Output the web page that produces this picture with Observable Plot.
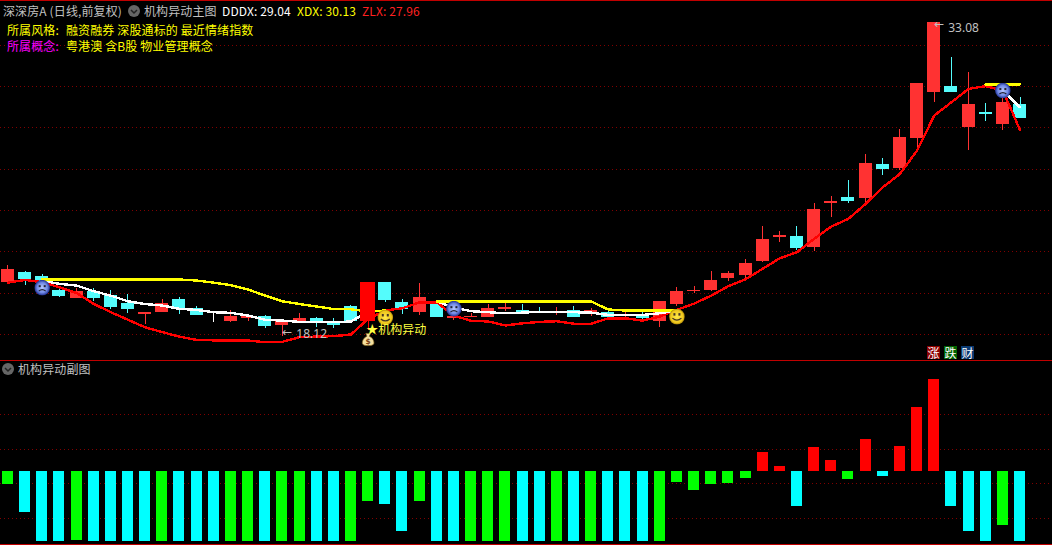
<!DOCTYPE html>
<html lang="zh">
<head>
<meta charset="utf-8">
<script src="https://cdn.jsdelivr.net/npm/d3@7"></script>
<script src="https://cdn.jsdelivr.net/npm/@observablehq/plot@0.6"></script>
<style>
html,body{margin:0;padding:0;background:#000;width:1052px;height:545px;overflow:hidden}
#stage{position:relative;width:1052px;height:545px;background:#000;font-family:"Noto Sans CJK SC","Noto Sans",sans-serif;font-size:12px}
#stage svg{display:block}
.t{position:absolute;white-space:nowrap;line-height:14px;height:14px;letter-spacing:.12px}
.tag{position:absolute;width:13px;height:13px;top:346px;color:#fff;font-size:12px;line-height:13px;text-align:center}
.icon{position:absolute;width:12px;height:12px}
</style>
</head>
<body>
<div id="stage"></div>
<script>
// Daily candles, index 0..59
const opens  = [20.74,21.17,20.98,20.31,19.98,20.26,20.03,19.69,19.21,19.31,19.84,19.45,18.88,18.84,19.02,19.03,18.69,18.88,18.98,18.79,19.55,18.84,20.69,19.74,19.31,19.69,19.02,19.06,19.07,19.41,19.36,19.26,19.22,19.36,19.22,19.22,19.11,19.03,18.88,19.69,20.30,20.36,20.93,21.03,21.74,22.84,22.88,22.41,24.46,24.70,24.74,26.31,26.17,27.60,29.79,30.03,28.08,28.75,28.27,29.17];
const closes = [21.27,20.84,20.79,20.07,20.26,19.98,19.55,19.41,19.22,19.69,19.50,19.17,18.88,19.03,19.03,18.60,18.84,18.98,18.79,18.65,18.84,20.69,19.88,19.41,19.98,19.07,19.03,19.07,19.45,19.50,19.26,19.22,19.31,19.07,19.36,19.07,19.12,19.02,19.79,20.26,20.31,20.79,21.12,21.60,22.74,22.93,22.36,24.17,24.55,24.60,26.36,26.08,27.60,30.13,33.08,29.79,29.13,28.74,29.27,28.55];
const highs  = [21.50,21.22,21.08,20.45,20.41,20.41,20.31,20.12,19.22,19.88,19.98,19.55,19.22,19.36,19.03,19.12,18.88,19.22,19.03,18.98,19.60,20.69,20.69,19.88,20.65,19.69,19.12,19.22,19.65,19.74,19.65,19.50,19.50,19.55,19.45,19.41,19.26,19.31,19.79,20.45,20.50,21.22,21.22,21.79,23.36,23.12,23.36,24.46,24.79,25.55,26.79,26.60,27.98,30.17,33.08,31.41,30.70,29.22,29.70,29.51];
const lows   = [20.65,20.55,20.07,19.98,19.93,19.79,19.41,19.22,18.69,19.26,19.17,19.12,18.79,18.79,18.84,18.50,18.12,18.74,18.55,18.50,18.79,18.41,19.74,19.17,19.12,19.07,18.88,19.03,19.03,19.31,19.22,19.22,19.12,19.07,19.07,19.03,19.03,18.93,18.55,19.55,20.17,20.26,20.74,20.88,21.65,22.60,22.22,22.17,23.79,24.46,24.46,25.79,26.03,27.08,29.27,29.79,26.98,28.36,27.93,28.55];
const limitUpDays = [21];

// Indicator lines of the main pane (null = not drawn on that day)
const xdxLine = [null,null,20.84,20.84,20.84,20.84,20.84,20.84,20.84,20.84,20.84,20.79,20.69,20.57,20.36,20.07,19.80,19.67,19.55,19.43,19.42,19.31,19.36,null,null,19.79,19.79,19.79,19.79,19.79,19.79,19.79,19.79,19.79,19.79,19.41,19.36,19.36,19.36,19.36,null,null,null,null,null,null,null,null,null,null,null,null,null,null,null,null,null,30.13,30.13,30.13];
const dddxLine = [null,null,20.79,20.63,20.55,20.28,20.07,19.80,19.67,19.60,19.44,19.39,19.28,19.25,19.12,18.92,18.88,18.82,18.82,18.80,18.84,19.31,null,null,null,19.79,19.50,19.33,19.28,19.23,19.26,19.30,19.28,19.28,19.26,19.15,19.15,19.15,19.23,19.36,null,null,null,null,null,null,null,null,null,null,null,null,null,null,null,null,null,null,29.84,29.04];
const zlxLine = [20.69,20.82,20.71,20.47,20.20,19.68,19.28,18.92,18.56,18.33,18.12,17.96,17.94,17.94,17.93,17.85,17.87,18.09,18.12,18.14,18.22,18.96,19.36,19.47,19.75,19.75,19.12,18.87,18.84,18.65,18.75,18.82,18.85,18.73,18.73,18.99,18.99,18.88,19.07,19.39,19.69,20.07,20.52,20.85,21.35,21.85,22.14,22.78,23.36,23.73,24.44,25.23,25.87,26.98,28.65,29.28,29.92,30.05,29.84,27.96];

// Sub-pane histogram
const subValues = [-18.6,-58.6,-100,-100,-98.6,-100,-100,-100,-100,-100,-100,-100,-100,-100,-100,-100,-100,-100,-100,-100,-100,-43,-47,-85.7,-43,-100,-100,-100,-100,-100,-100,-100,-100,-100,-100,-100,-100,-100,-100,-15.7,-27,-18.6,-17,-10,27,7,-50,34.4,15.8,-11.4,46,-7,36,91.7,130.5,-50,-85.7,-100,-77,-100];
const subKinds  = "gccc"+"gcccc"+"gccc"+"ggc"+"ggcc"+"gg"+"cc"+"g"+"cc"+"ggg"+"c"+"cgcgccc"+"g"+"ggggg"+"rr"+"c"+"rr"+"g"+"r"+"c"+"rrr"+"cc"+"c"+"g"+"c";

const mainGrid = [32.00,30.03,28.06,26.09,24.12,22.15,20.18,18.21];
const subGrid  = [81,31.7,-17.5,-66.8];
const subBorders = [157.4,-103.7];

const priceArrows = [{i:16,p:18.31},{i:54,p:32.98}];
const priceLabels = [{i:16,p:18.24,text:"18.12"},{i:54,p:32.79,text:"33.08"}];
const signalNotes = [{i:21,p:18.41,text:"★机构异动"}];
const sadDays   = [{i:2,p:20.45},{i:26,p:19.45},{i:58,p:29.84}];
const smileDays = [{i:22,p:19.03},{i:39,p:19.07}];
const bagDays   = [{i:21,p:17.98}];

const RED="#ff3232", CYAN="#54fcfc", GRID="#800000", LINE="#c00000";
const svgUri = s => "data:image/svg+xml;charset=utf-8," + encodeURIComponent(s);
const sadSrc = svgUri(`<svg xmlns="http://www.w3.org/2000/svg" viewBox="0 0 16 16"><defs><radialGradient id="g"><stop offset="0" stop-color="#b8c8ff"/><stop offset=".65" stop-color="#6f88e4"/><stop offset="1" stop-color="#1e2e90"/></radialGradient></defs><circle cx="8" cy="8" r="7.8" fill="url(#g)"/><rect x="4.5" y="5.5" width="2" height="2" fill="#223"/><rect x="9.5" y="5.5" width="2" height="2" fill="#223"/><path d="M4.5 11.5Q8 8.5 11.5 11.5" stroke="#223" fill="none" stroke-width="1.2"/></svg>`);
const smileSrc = svgUri(`<svg xmlns="http://www.w3.org/2000/svg" viewBox="0 0 16 16"><defs><radialGradient id="g"><stop offset="0" stop-color="#ffe84a"/><stop offset=".8" stop-color="#eec61c"/><stop offset="1" stop-color="#a88408"/></radialGradient></defs><circle cx="8" cy="8" r="7.8" fill="url(#g)"/><rect x="4.5" y="4.5" width="2" height="2.5" fill="#432"/><rect x="9.5" y="4.5" width="2" height="2.5" fill="#432"/><path d="M3.5 9.5Q8 13.5 12.5 9.5" stroke="#432" fill="none" stroke-width="1.2"/></svg>`);
const bagSrc = svgUri(`<svg xmlns="http://www.w3.org/2000/svg" viewBox="0 0 16 16"><path d="M5.5 1.5h5l-1.3 3c3.5 1.500 5 4.500 5 7 0 2-1.500 3-6.200 3s-6.200-1-6.200-3c0-2.500 1.500-5.500 5-7z" fill="#f3dfa0" stroke="#8a6a20" stroke-width=".7"/><text x="8" y="13" font-size="8" font-family="DejaVu Sans" font-weight="bold" text-anchor="middle" fill="#7a3c10">$</text></svg>`);

const days = d3.range(60);
const candles = days.map(i => ({i, open:opens[i], close:closes[i], high:highs[i], low:lows[i],
  color: closes[i]>opens[i] ? RED : closes[i]<opens[i] ? CYAN : "#ffffff"}));
const limitUp = candles.filter(d => limitUpDays.includes(d.i));
const subColor = {g:"#00ff00", c:"#00ffff", r:"#ff0000"};
const subBars = days.map(i => ({i, v:subValues[i], color:subColor[subKinds[i]]}));
const crisp = {shapeRendering:"crispEdges"};
const xScale = {type:"linear", domain:[0,59], range:[7.4,1019.5], axis:null};
const segs = a => { // split a series into its drawn runs
  const out=[]; let run=0; days.forEach(i=>{ if(a[i]!=null){ if(i===0||a[i-1]==null) run++; out.push({i,v:a[i],run}); } }); return out; };
const lineMark = (a,c) => Plot.line(segs(a), {x:"i", y:"v", z:"run", stroke:c, strokeWidth:2.4, ...crisp});

const mainPlot = Plot.plot({
  width:1052, height:360, margin:0,
  style:{background:"#000"},
  x:xScale,
  y:{domain:[16.98,34.13], range:[360,0], axis:null},
  color:{type:"identity"},
  marks:[
    Plot.ruleY(mainGrid, {stroke:GRID, strokeWidth:1, strokeDasharray:"1,3", ...crisp}),
    Plot.ruleX(candles, {x:"i", y1:"low", y2:"high", stroke:"color", strokeWidth:1, ...crisp}),
    Plot.rect(candles, {x1:d=>d.i-0.35, x2:d=>d.i+0.35, y1:"open", y2:"close", fill:"color", stroke:"color", strokeWidth:1, ...crisp}),
    lineMark(zlxLine, "#ff0000"),
    lineMark(dddxLine, "#ffffff"),
    lineMark(xdxLine, "#ffff00"),
    Plot.ruleX(limitUp, {x:"i", y1:"low", y2:"high", stroke:"#ff0000", strokeWidth:1, ...crisp}),
    Plot.rect(limitUp, {x1:d=>d.i-0.44, x2:d=>d.i+0.44, y1:"open", y2:"close", fill:"#ff0000", ...crisp}),
    Plot.image(sadDays, {x:"i", y:"p", src:()=>sadSrc, width:16, height:16}),
    Plot.image(smileDays, {x:"i", y:"p", src:()=>smileSrc, width:16, height:16}),
    Plot.image(bagDays, {x:"i", y:"p", src:()=>bagSrc, width:15, height:16}),
    Plot.text(priceArrows, {x:"i", y:"p", text:()=>"←", textAnchor:"start", fill:"#c0c0c0", fontSize:12, fontFamily:"DejaVu Sans"}),
    Plot.text(priceLabels, {x:"i", y:"p", text:"text", textAnchor:"start", dx:14, fill:"#c0c0c0", fontSize:12, fontFamily:"Noto Sans"}),
    Plot.text(signalNotes, {x:"i", y:"p", text:"text", textAnchor:"start", dx:-2, fill:"#ffff40", fontSize:12, fontFamily:"Noto Sans CJK SC"})
  ]
});

const subPlot = Plot.plot({
  width:1052, height:185, margin:0,
  style:{background:"#000"},
  x:xScale,
  y:{domain:[-105.4,158.1], range:[185,0], axis:null},
  color:{type:"identity"},
  marks:[
    Plot.ruleY(subGrid, {stroke:GRID, strokeWidth:1, strokeDasharray:"1,3", ...crisp}),
    Plot.rect(subBars, {x1:d=>d.i-0.32, x2:d=>d.i+0.32, y1:0, y2:"v", fill:"color", ...crisp}),
    Plot.ruleY(subBorders, {stroke:LINE, strokeWidth:1, ...crisp})
  ]
});

const stage = document.getElementById("stage");
stage.append(mainPlot, subPlot);

const addText = (left, top, text, color) => {
  const s = document.createElement("span");
  s.className = "t"; s.style.left = left+"px"; s.style.top = top+"px"; s.style.color = color; s.textContent = text;
  stage.append(s);
};
const addIcon = (left, top) => {
  const d = document.createElement("div");
  d.className = "icon"; d.style.left = left+"px"; d.style.top = top+"px";
  d.innerHTML = '<svg width="12" height="12" viewBox="0 0 12 12"><circle cx="6" cy="6" r="6" fill="#666"/><path d="M3 5l3 3 3-3" stroke="#222" stroke-width="1.5" fill="none"/></svg>';
  stage.append(d);
};
// top border of the pane
const topBorder = document.createElement("div");
topBorder.style.cssText = "position:absolute;left:0;top:0;width:1052px;height:1px;background:"+LINE;
stage.append(topBorder);

addText(3,4,"深深房A (日线,前复权)","#c0c0c0");
addIcon(128,5);
addText(144,4,"机构异动主图","#c0c0c0");
addText(222,4,"DDDX: 29.04","#ffffff");
addText(297,4,"XDX: 30.13","#ffff00");
addText(362,4,"ZLX: 27.96","#ff2020");
addText(7,23,"所属风格:","#ffff00");
addText(66,23,"融资融券 深股通标的 最近情绪指数","#ffff00");
addText(7,39,"所属概念:","#ff00ff");
addText(66,39,"粤港澳 含B股 物业管理概念","#ffff00");
addIcon(2,363);
addText(18,362,"机构异动副图","#c0c0c0");
[["涨",927,"#8b0000"],["跌",944,"#006400"],["财",961,"#0a3a72"]].forEach(([t,l,c])=>{
  const d=document.createElement("div"); d.className="tag"; d.style.left=l+"px"; d.style.background=c; d.textContent=t; stage.append(d);
});
</script>
</body>
</html>
